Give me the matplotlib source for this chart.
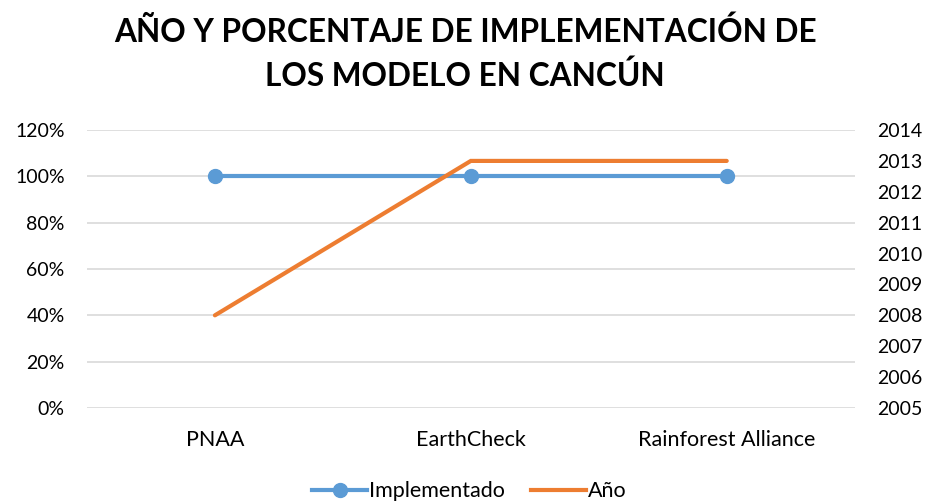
import matplotlib
matplotlib.use('Agg')
import matplotlib.pyplot as plt
from matplotlib.lines import Line2D

# chart data
modelos = ['PNAA', 'EarthCheck', 'Rainforest Alliance']
implementado = [1.0, 1.0, 1.0]
anio = [2008, 2013, 2013]
pct_ticks = [0, 0.2, 0.4, 0.6, 0.8, 1.0, 1.2]
year_ticks = list(range(2005, 2015))

title = 'AÑO Y PORCENTAJE DE IMPLEMENTACIÓN DE\nLOS MODELO EN CANCÚN'

blue = '#5b9bd5'
orange = '#ed7d31'
grid = '#d9d9d9'

plt.rcParams['font.family'] = ['Lato', 'DejaVu Sans']

fig = plt.figure(figsize=(9.3, 5.04), dpi=100)
ax = fig.add_axes([0.0935, 0.1905, 0.8255, 0.5515])
ax2 = ax.twinx()

x = list(range(len(modelos)))
ax.plot(x, implementado, color=blue, lw=3, marker='o', ms=10,
        solid_capstyle='round', zorder=3)
ax2.plot(x, anio, color=orange, lw=3, solid_capstyle='round',
         solid_joinstyle='miter', zorder=3)

ax.set_xlim(-0.5, 2.5)
ax.set_ylim(0, 1.2)
ax2.set_ylim(2005, 2014)
ax.set_yticks(pct_ticks)
ax.set_yticklabels(['%d%%' % round(p * 100) for p in pct_ticks])
ax2.set_yticks(year_ticks)
ax.set_xticks(x)
ax.set_xticklabels(modelos)

for a in (ax, ax2):
    for s in a.spines.values():
        s.set_visible(False)
    a.tick_params(length=0, labelsize=14, colors='black')
ax.tick_params(axis='y', pad=16)
ax2.tick_params(axis='y', pad=16)
ax.tick_params(axis='x', pad=16, labelsize=15.5)

ax.yaxis.grid(True, color=grid, lw=1.2)
ax.set_axisbelow(True)

fig.text(0.5, 0.893, title, ha='center', va='center', fontsize=22.8,
         fontweight='bold', linespacing=1.55)

handles = [Line2D([], [], color=blue, lw=3, marker='o', ms=10),
           Line2D([], [], color=orange, lw=3)]
fig.legend(handles, ['Implementado', 'Año'], loc='center',
           bbox_to_anchor=(0.505, 0.025), ncol=2, frameon=False,
           fontsize=15.5, handlelength=2.55, handletextpad=0.1,
           columnspacing=1.2)

fig.savefig('out.png', dpi=100)
